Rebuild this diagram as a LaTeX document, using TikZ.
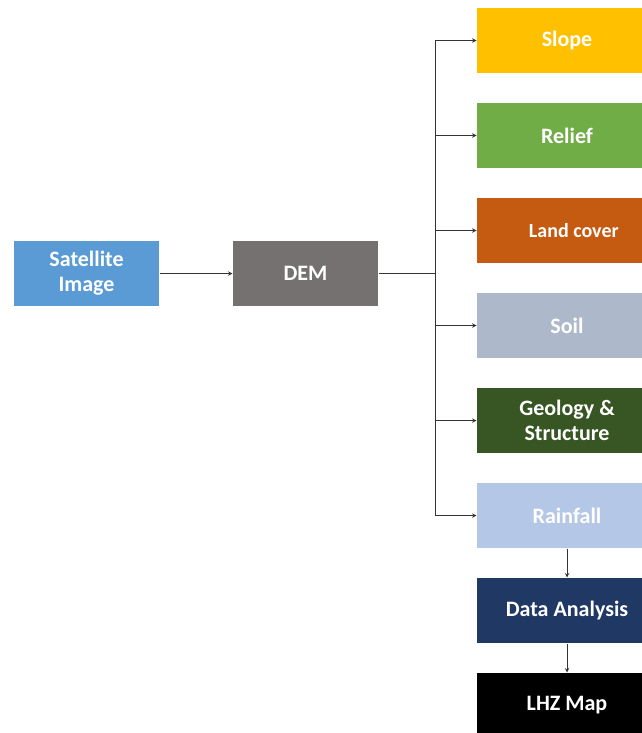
\documentclass[tikz,border=0pt]{standalone}
\usepackage{fontspec}
\setmainfont{Carlito}
\usetikzlibrary{positioning,arrows}
\definecolor{satblue}{HTML}{5B9BD5}
\definecolor{demgray}{HTML}{767171}
\definecolor{slopeyel}{HTML}{FFC000}
\definecolor{reliefgrn}{HTML}{70AD47}
\definecolor{landorg}{HTML}{C55A11}
\definecolor{soilgray}{HTML}{ADB9CA}
\definecolor{geogrn}{HTML}{375623}
\definecolor{rainblue}{HTML}{B4C7E7}
\definecolor{datanavy}{HTML}{203864}

\begin{document}
\begin{tikzpicture}[x=1pt, y=1pt, ->, >=stealth, line width=1pt, draw=black!80,
	node distance=73pt,
	box/.style={rectangle, minimum width=145pt, minimum height=65pt, inner sep=0pt, align=center,
		text=white, font=\bfseries\fontsize{22}{25}\selectfont},
	layer/.style={box, minimum width=180pt}]
	\useasboundingbox (0,0) rectangle (642,-733);
	
	\node[box, fill=satblue] (sat) at (86.5,-273.5)                {Satellite\\Image};
	\node[box, fill=demgray] (dem) [right=of sat]                  {DEM};
	
	\node[layer, fill=slopeyel]  (slope)  at (567,-40.5)           {Slope};
	\node[layer, fill=reliefgrn] (relief) [below=29pt of slope]    {Relief};
	\node[layer, fill=landorg]   (land)   [below=29pt of relief]   {\fontsize{20}{23}\selectfont\ \ \ Land cover};
	\node[layer, fill=soilgray]  (soil)   [below=29pt of land]     {Soil};
	\node[layer, fill=geogrn]    (geo)    [below=29pt of soil]     {Geology \&\\Structure};
	\node[layer, fill=rainblue]  (rain)   [below=29pt of geo]      {Rainfall};
	\node[layer, fill=datanavy]  (data)   [below=29pt of rain]     {Data Analysis};
	\node[layer, fill=black]     (lhz)    [below=29pt of data]     {LHZ Map};
	
	\coordinate (fork) at (435,-273.5);
	\draw[-] (dem) -- (fork);
	\draw[-] (fork |- slope) -- (fork |- rain);
	\foreach \n in {slope,relief,land,soil,geo,rain}
		\draw (fork |- \n) -- (\n);
	\draw (sat) -- (dem);
	\draw (rain) -- (data);
	\draw (data) -- (lhz);
\end{tikzpicture}
\end{document}
